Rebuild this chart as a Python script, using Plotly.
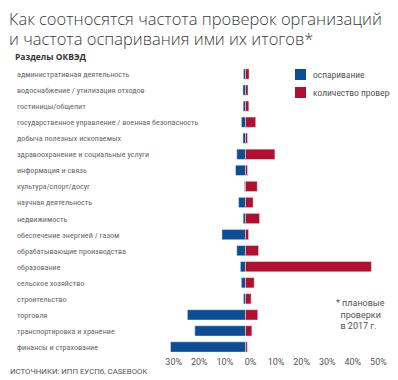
import plotly.graph_objects as go

categories = [
    "административная деятельность",
    "водоснабжение / утилизация отходов",
    "гостиницы/общепит",
    "государственное управление / военная безопасность",
    "добыча полезных ископаемых",
    "здравоохранение и социальные услуги",
    "информация и связь",
    "культура/спорт/досуг",
    "научная деятельность",
    "недвижимость",
    "обеспечение энергией / газом",
    "обрабатывающие производства",
    "образование",
    "сельское хозяйство",
    "строительство",
    "торговля",
    "транспортировка и хранение",
    "финансы и страхование",
]
contest = [0.8, 1.0, 0.9, 1.6, 1.0, 3.4, 3.9, 0.4, 2.7, 0.9, 9.2, 3.4, 2.0, 1.6, 0.8, 22.7, 19.8, 29.3]
inspections = [1.4, 1.0, 1.3, 4.0, 0.8, 11.5, 0.8, 4.6, 3.0, 5.5, 1.2, 5.1, 49.2, 3.4, 2.2, 4.8, 2.5, 0.7]
tick_vals = [-30, -20, -10, 0, 10, 20, 30, 40, 50]
tick_text = ["30%", "20%", "10%", "0%", "10%", "20%", "30%", "40%", "50%"]
series_names = ["оспаривание", "количество проверок"]

BLUE = "#0b4e96"
RED = "#b0102f"
FONT = "Open Sans"
NARROW = "Liberation Sans Narrow, Roboto Condensed, Roboto"

fig = go.Figure()
fig.add_trace(go.Bar(
    y=categories, x=[-v for v in contest], orientation="h", name=series_names[0],
    marker=dict(color=BLUE, line=dict(color="rgba(255,255,255,0.7)", width=0.6)),
))
fig.add_trace(go.Bar(
    y=categories, x=inspections, orientation="h", name=series_names[1],
    marker=dict(color=RED, line=dict(color="rgba(255,255,255,0.7)", width=0.6)),
))

# page body has an 8px margin, so the figure occupies 8..398 x 8..380 of the window
OFF = 8
W, H = 398 - OFF, 380 - OFF
L, R, T, B = 160 - OFF, 0, 74 - 8 - OFF, 25
pw, ph = W - L - R, H - T - B

def px(x):
    return (x - OFF - L) / pw

def py(y):
    return (H - B - (y - OFF)) / ph

annotations = []
for c in categories:
    annotations.append(dict(
        x=px(15), xref="paper", y=c, yref="y", text=c, showarrow=False,
        xanchor="left", yanchor="middle",
        font=dict(family=NARROW, size=8.1, color="#666666"),
    ))

annotations += [
    dict(x=px(7), xref="paper", y=py(19), yref="paper",
         text="Как соотносятся частота проверок организаций",
         showarrow=False, xanchor="left", yanchor="middle",
         font=dict(family=FONT, size=16.5, color="#3a3a3a", weight=300)),
    dict(x=px(7), xref="paper", y=py(38), yref="paper",
         text="и частота оспаривания ими их итогов*",
         showarrow=False, xanchor="left", yanchor="middle",
         font=dict(family=FONT, size=16.5, color="#3a3a3a", weight=300)),
    dict(x=px(13), xref="paper", y=py(57), yref="paper",
         text="<b>Разделы ОКВЭД</b>",
         showarrow=False, xanchor="left", yanchor="middle",
         font=dict(family=FONT, size=8.5, color="#333333")),
    dict(x=px(8), xref="paper", y=py(371), yref="paper",
         text="ИСТОЧНИКИ: ИПП ЕУСПб, CASEBOOK",
         showarrow=False, xanchor="left", yanchor="middle",
         font=dict(family="Roboto", size=7.8, color="#555555")),
    dict(x=px(334), xref="paper", y=py(296), yref="paper",
         text="* плановые<br>  проверки<br>  в 2017 г.",
         showarrow=False, xanchor="left", yanchor="top", align="left",
         font=dict(family="Roboto", size=9, color="#555555")),
]

# manual legend (swatch + label)
shapes = []
for i, (name, col) in enumerate(zip(series_names, [BLUE, RED])):
    yc = 74.5 + 18 * i
    shapes.append(dict(type="rect", xref="paper", yref="paper",
                       x0=px(295), x1=px(306), y0=py(yc - 5.5), y1=py(yc + 5.5),
                       fillcolor=col, line=dict(width=0)))
    annotations.append(dict(x=px(311), xref="paper", y=py(yc), yref="paper",
                            text=name, showarrow=False, xanchor="left", yanchor="middle",
                            font=dict(family=NARROW, size=9.5, color="#555555")))

fig.update_layout(
    width=W, height=H,
    margin=dict(l=L, r=R, t=T, b=B, pad=0, autoexpand=False),
    paper_bgcolor="white", plot_bgcolor="white",
    barmode="relative", bargap=0.36,
    showlegend=False,
    xaxis=dict(range=[-33.4, 59.6], tickvals=tick_vals, ticktext=tick_text,
               showgrid=False, zeroline=False, showline=False, ticks="",
               ticklabelshift=5, ticklabelstandoff=0,
               tickfont=dict(family="Roboto", size=9, color="#555555"), fixedrange=True),
    yaxis=dict(categoryorder="array", categoryarray=categories, autorange="reversed",
               showticklabels=False, showgrid=False, zeroline=False, showline=False, ticks=""),
    annotations=annotations,
    shapes=shapes,
)

fig.write_html("out.html")
